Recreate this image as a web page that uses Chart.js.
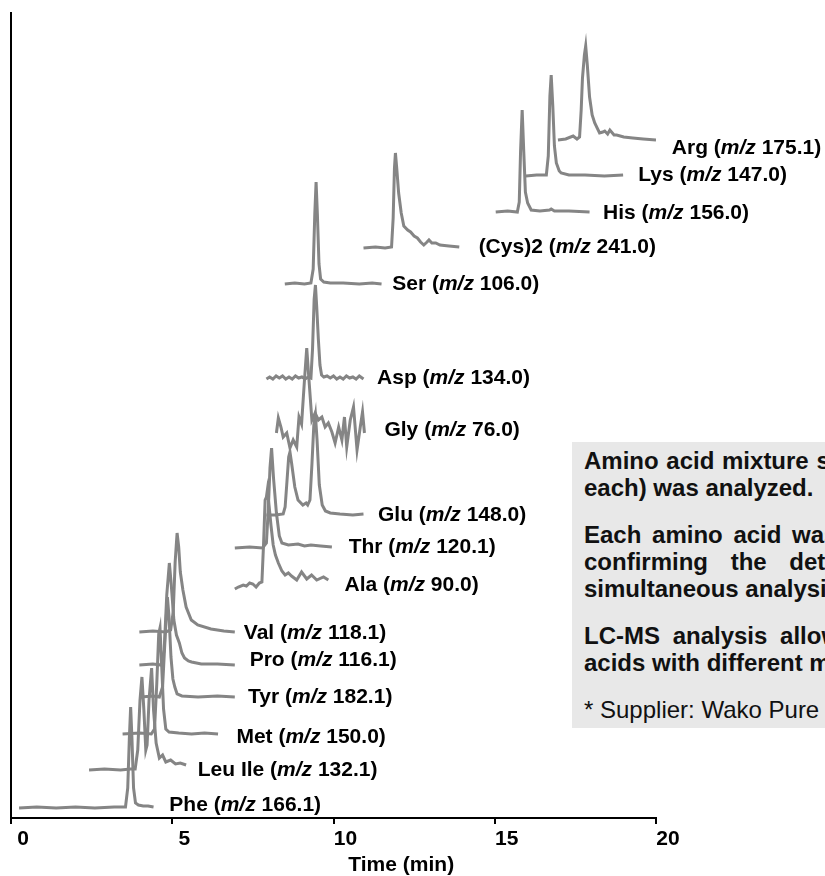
<!DOCTYPE html>
<html>
<head>
<meta charset="utf-8">
<script src="https://cdn.jsdelivr.net/npm/chart.js@4.4.1/dist/chart.umd.min.js"></script>
<style>
  html, body { margin: 0; padding: 0; background: #fff; overflow: hidden; }
  #wrap { position: relative; width: 825px; height: 876px; }
  #note {
    position: absolute; left: 572px; top: 442px; width: 340px; height: 286px;
    box-sizing: border-box; padding: 5px 0 0 12px; background: #e8e8e8;
    font: bold 24px "Liberation Sans", Arial, sans-serif; color: #111;
  }
  #note p { margin: 0; line-height: 27px; white-space: nowrap; }
  #note p.gap { margin-top: 20px; }
  #note p.reg { font-weight: normal; }
</style>
</head>
<body>
<div id="wrap">
  <canvas id="myChart" width="825" height="876"></canvas>
  <div id="note">
    <p style="word-spacing:1px">Amino acid mixture standard* (10 µg/mL</p>
    <p>each) was analyzed.</p>
    <p class="gap" style="word-spacing:4px">Each amino acid was detected by SIM,</p>
    <p style="word-spacing:16px">confirming the detectability for</p>
    <p>simultaneous analysis.</p>
    <p class="gap" style="word-spacing:6px">LC-MS analysis allows separation of amino</p>
    <p>acids with different masses.</p>
    <p class="gap reg">* Supplier: Wako Pure Chemical Industries</p>
  </div>
</div>
<script>
// chromatograms: [time (min), signal above own baseline]
var phe = [[0.25,0],[0.8,1],[1.4,0],[2.0,1],[2.6,0],[3.2,1],[3.55,1],[3.62,20],[3.67,70],[3.71,101],[3.75,70],[3.80,20],[3.86,5],[3.95,3],[4.1,2],[4.25,2],[4.42,1]];
var leuIle = [[2.42,0],[2.9,1],[3.4,0],[3.7,1],[3.85,1],[3.93,20],[4.0,70],[4.06,93],[4.12,60],[4.18,20],[4.22,25],[4.28,70],[4.36,102],[4.42,60],[4.5,27],[4.6,12],[4.7,15],[4.8,8],[4.95,10],[5.1,6],[5.25,7],[5.43,5]];
var met = [[3.46,0],[4.0,1],[4.35,0],[4.45,5],[4.52,50],[4.58,100],[4.62,106],[4.67,70],[4.73,25],[4.8,5],[4.9,2],[5.2,1],[5.6,0],[6.0,1],[6.42,0]];
var tyr = [[4.03,0],[4.4,1],[4.6,0],[4.7,10],[4.78,60],[4.85,100],[4.9,80],[4.96,40],[5.02,18],[5.08,10],[5.15,3],[5.3,1],[5.8,0],[6.4,1],[6.94,0]];
var pro = [[3.98,0],[4.4,1],[4.65,0],[4.75,15],[4.83,70],[4.91,102],[4.97,80],[5.05,45],[5.13,30],[5.22,22],[5.3,12],[5.38,7],[5.5,4],[5.6,3],[5.9,1],[6.4,1],[6.94,0]];
var val = [[3.98,0],[4.4,1],[4.8,0],[4.95,2],[5.03,20],[5.09,70],[5.15,99],[5.2,85],[5.25,60],[5.33,42],[5.43,25],[5.59,12],[5.79,7],[6.2,3],[6.6,1],[6.94,0]];
var ala = [[6.94,-4],[7.05,-2],[7.2,0],[7.3,-1],[7.4,2],[7.5,1],[7.6,-2],[7.7,2],[7.78,3],[7.83,40],[7.88,85],[7.92,88],[7.95,95],[8.0,80],[8.06,60],[8.13,40],[8.2,30],[8.29,22],[8.4,14],[8.5,10],[8.6,12],[8.7,9],[8.86,5],[9.01,13],[9.17,6],[9.32,10],[9.48,5],[9.69,8],[9.84,5]];
var thr = [[6.94,0],[7.4,1],[7.8,0],[7.92,5],[7.98,40],[8.03,80],[8.08,100],[8.14,70],[8.23,35],[8.32,12],[8.4,5],[8.6,3],[8.9,4],[9.1,2],[9.3,3],[9.6,2],[9.95,1]];
var glu = [[7.92,0],[8.2,0],[8.44,1],[8.5,8],[8.56,35],[8.61,58],[8.65,63],[8.7,52],[8.8,28],[8.9,15],[9.05,10],[9.15,12],[9.2,10],[9.27,15],[9.33,50],[9.39,90],[9.44,100],[9.49,75],[9.56,30],[9.65,10],[9.75,4],[9.9,2],[10.2,1],[10.6,0],[10.93,1]];
var gly = [[8.23,-3],[8.29,12],[8.37,3],[8.44,-7],[8.55,-3],[8.65,-18],[8.75,-10],[8.86,-17],[8.93,13],[9.01,6],[9.1,50],[9.17,82],[9.24,50],[9.33,10],[9.43,17],[9.53,10],[9.64,13],[9.74,3],[9.84,7],[9.95,-2],[10.05,-13],[10.16,3],[10.26,-10],[10.34,13],[10.41,-17],[10.52,10],[10.62,23],[10.73,-20],[10.83,3],[10.9,18],[10.96,-3]];
var asp = [[7.92,0],[8.02,2],[8.12,0],[8.22,3],[8.32,1],[8.42,3],[8.52,0],[8.62,2],[8.72,0],[8.82,3],[8.92,1],[9.02,2],[9.12,0],[9.22,2],[9.3,1],[9.35,30],[9.4,80],[9.44,94],[9.48,72],[9.53,40],[9.58,14],[9.63,4],[9.7,2],[9.8,3],[9.9,1],[10.0,3],[10.1,0],[10.2,2],[10.3,0],[10.4,3],[10.5,1],[10.6,2],[10.7,0],[10.8,3],[10.93,0]];
var ser = [[8.49,0],[8.8,1],[9.1,0],[9.3,1],[9.37,15],[9.42,70],[9.46,102],[9.5,70],[9.55,20],[9.6,5],[9.7,2],[9.9,1],[10.3,1],[10.8,0],[11.2,1],[11.49,0]];
var cys2 = [[10.93,0],[11.3,1],[11.6,0],[11.8,1],[11.85,30],[11.89,80],[11.92,95],[11.96,80],[12.02,55],[12.1,35],[12.18,22],[12.3,18],[12.39,16],[12.5,12],[12.6,10],[12.7,6],[12.8,3],[12.9,6],[12.96,8],[13.05,5],[13.17,5],[13.3,3],[13.58,2],[13.9,1]];
var his = [[15.03,0],[15.4,1],[15.7,0],[15.76,10],[15.8,60],[15.85,102],[15.9,60],[15.95,20],[16.02,9],[16.13,2],[16.4,1],[16.7,2],[16.75,3],[16.85,1],[17.3,1],[17.94,0]];
var lys = [[15.96,0],[16.3,1],[16.6,1],[16.66,20],[16.71,80],[16.75,101],[16.8,70],[16.85,30],[16.91,13],[17.0,5],[17.06,3],[17.3,1],[17.8,1],[18.4,0],[18.98,1]];
var arg = [[16.96,0],[17.2,1],[17.43,4],[17.55,1],[17.63,3],[17.68,30],[17.72,62],[17.78,85],[17.82,94],[17.87,75],[17.94,43],[18.02,25],[18.1,17],[18.25,7],[18.35,8],[18.41,9],[18.5,6],[18.57,10],[18.7,5],[18.78,5],[19.0,3],[19.28,2],[19.6,1],[20.0,0]];

var traces  = [phe, leuIle, met, tyr, pro, val, ala, thr, glu, gly, asp, ser, cys2, his, lys, arg];
var names   = ["Phe", "Leu Ile", "Met", "Tyr", "Pro", "Val", "Ala", "Thr", "Glu", "Gly", "Asp", "Ser", "(Cys)2", "His", "Lys", "Arg"];
var mz      = ["166.1", "132.1", "150.0", "182.1", "116.1", "118.1", "90.0", "120.1", "148.0", "76.0", "134.0", "106.0", "241.0", "156.0", "147.0", "175.1"];
var offsets = [10, 48, 84, 121, 153, 186, 233, 270, 303, 388, 439, 534, 570, 606, 642, 678];
var labelX  = [4.91, 5.79, 6.99, 7.35, 7.40, 7.22, 10.34, 10.47, 11.38, 11.58, 11.35, 11.82, 14.5, 18.36, 19.45, 20.49];
var labelY  = [13, 48, 81, 121, 158, 185, 233, 271, 303, 388, 440, 534, 571, 605, 643, 670];
var xTicks  = [0, 5, 10, 15, 20];

var FONT = '"Liberation Sans", Arial, sans-serif';

var datasets = traces.map(function (tr, i) {
  return {
    label: names[i],
    data: tr.map(function (p) { return { x: p[0], y: p[1] + offsets[i] }; }),
    borderColor: "#858585",
    borderWidth: 3,
    pointRadius: 0,
    tension: 0,
    fill: false
  };
});

// peak labels, "m/z" in italics, plus the axis title (sits right of centre)
var peakLabels = {
  id: "peakLabels",
  afterDraw: function (chart) {
    var ctx = chart.ctx;
    var xs = chart.scales.x, ys = chart.scales.y;
    ctx.save();
    ctx.fillStyle = "#000";
    ctx.textBaseline = "middle";
    ctx.textAlign = "left";
    for (var i = 0; i < names.length; i++) {
      var x = xs.getPixelForValue(labelX[i]);
      var y = ys.getPixelForValue(labelY[i]);
      var parts = [[names[i] + " (", "bold"], ["m/z", "italic bold"], [" " + mz[i] + ")", "bold"]];
      parts.forEach(function (pt) {
        ctx.font = pt[1] + " 21px " + FONT;
        ctx.fillText(pt[0], x, y);
        x += ctx.measureText(pt[0]).width;
      });
    }
    ctx.font = "bold 21px " + FONT;
    ctx.textAlign = "center";
    ctx.fillText("Time (min)", xs.getPixelForValue(12.1), xs.bottom - 11);
    ctx.restore();
  }
};

const config = {
  type: "line",
  data: { datasets: datasets },
  options: {
    responsive: false,
    animation: false,
    layout: { padding: { left: 11, right: 169, top: 13, bottom: 0 } },
    plugins: { legend: { display: false }, tooltip: { enabled: false } },
    scales: {
      x: {
        type: "linear",
        min: 0,
        max: 20,
        afterBuildTicks: function (axis) {
          axis.ticks = xTicks.map(function (v) { return { value: v }; });
        },
        afterFit: function (axis) {
          axis.height = 58;
        },
        grid: { display: true, drawOnChartArea: false, drawTicks: true, tickLength: 6, color: "#000", lineWidth: 2 },
        border: { display: true, color: "#000", width: 2 },
        ticks: { color: "#000", padding: 5, labelOffset: 12, maxRotation: 0, font: { family: FONT, size: 21, weight: "bold", lineHeight: 1 } },
        title: { display: false }
      },
      y: {
        type: "linear",
        min: 0,
        max: 805,
        grid: { display: false, drawTicks: false },
        border: { display: true, color: "#000", width: 2 },
        ticks: { display: false }
      }
    }
  },
  plugins: [peakLabels]
};

const myChart = new Chart(document.getElementById("myChart"), config);
</script>
</body>
</html>
